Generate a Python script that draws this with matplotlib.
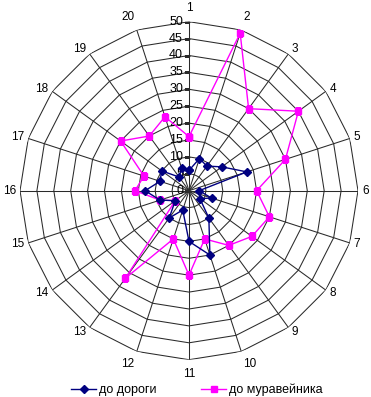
import numpy as np
import matplotlib
matplotlib.use("Agg")
import matplotlib.pyplot as plt
from matplotlib.transforms import offset_copy

categories = [str(i) for i in range(1, 21)]
road = [6, 10, 9, 12, 18, 3, 7, 4, 10, 20, 15, 6, 10, 5, 9, 13, 9, 10, 5, 7]
anthill = [16, 49, 30, 40, 30, 20, 25, 23, 20, 15, 25, 15, 32, 5, 9, 16, 14, 25, 20, 23]
ring_values = list(range(0, 55, 5))
series_names = ["до дороги", "до муравейника"]

plt.rcParams['font.family'] = ['Liberation Sans', 'DejaVu Sans']

W, H = 371, 397
fig = plt.figure(figsize=(W / 100, H / 100), dpi=100)
cx, cy, R = 189, 190.7, 169
ax = fig.add_axes([(cx - R) / W, 1 - (cy + R) / H, 2 * R / W, 2 * R / H], projection='polar')
ax.set_theta_zero_location('N')
ax.set_theta_direction(-1)
ax.set_ylim(0, 50)
ax.grid(False)
ax.set_xticks([])
ax.set_yticks([])
ax.spines['polar'].set_visible(False)
ax.patch.set_visible(False)

n = len(categories)
theta = np.arange(n) * 2 * np.pi / n
theta_c = np.concatenate([theta, theta[:1]])
grid_col = '#2a2a2a'

# polygon rings
for r in ring_values[1:]:
    ax.plot(theta_c, [r] * (n + 1), color=grid_col, lw=0.75, zorder=1)
# spokes
for t in theta:
    ax.plot([t, t], [0, 50], color=grid_col, lw=0.75, zorder=1)

# radial labels with tick marks
lab_tr = offset_copy(ax.transData, fig=fig, x=-6, y=0, units='dots')
tick_tr = offset_copy(ax.transData, fig=fig, x=-2, y=0, units='dots')
for r in ring_values:
    ax.plot([0], [r], marker='_', markersize=5, color=grid_col, mew=0.8, zorder=2,
            transform=tick_tr)
    ax.text(0, r, str(r), transform=lab_tr, ha='right', va='center', fontsize=9, color='black')

# category labels
for t, lab in zip(theta, categories):
    s, c = np.sin(t), np.cos(t)
    d = 4 + 4 * abs(c) ** 4
    tr = offset_copy(ax.transData, fig=fig, x=d * s, y=d * c, units='dots')
    ha = 'left' if s > 0.1 else ('right' if s < -0.1 else 'center')
    va = 'bottom' if c > 0.95 else ('top' if c < -0.95 else 'center')
    ax.text(t, 50, lab, transform=tr, ha=ha, va=va, fontsize=8.5, color='black')

road_c = road + road[:1]
ant_c = anthill + anthill[:1]
l1, = ax.plot(theta_c, road_c, color='#000080', lw=1, marker='D', markersize=4,
              label=series_names[0], zorder=4)
l2, = ax.plot(theta_c, ant_c, color='#FF00FF', lw=1, marker='s', markersize=4.5,
              label=series_names[1], zorder=3)

fig.legend(handles=[l1, l2], loc='center', bbox_to_anchor=(0.53, 1 - 390 / H),
           ncol=2, frameon=False, fontsize=9, handlelength=2.0, handletextpad=0.2,
           columnspacing=3.6, borderpad=0)

fig.savefig('out.png', dpi=100)
